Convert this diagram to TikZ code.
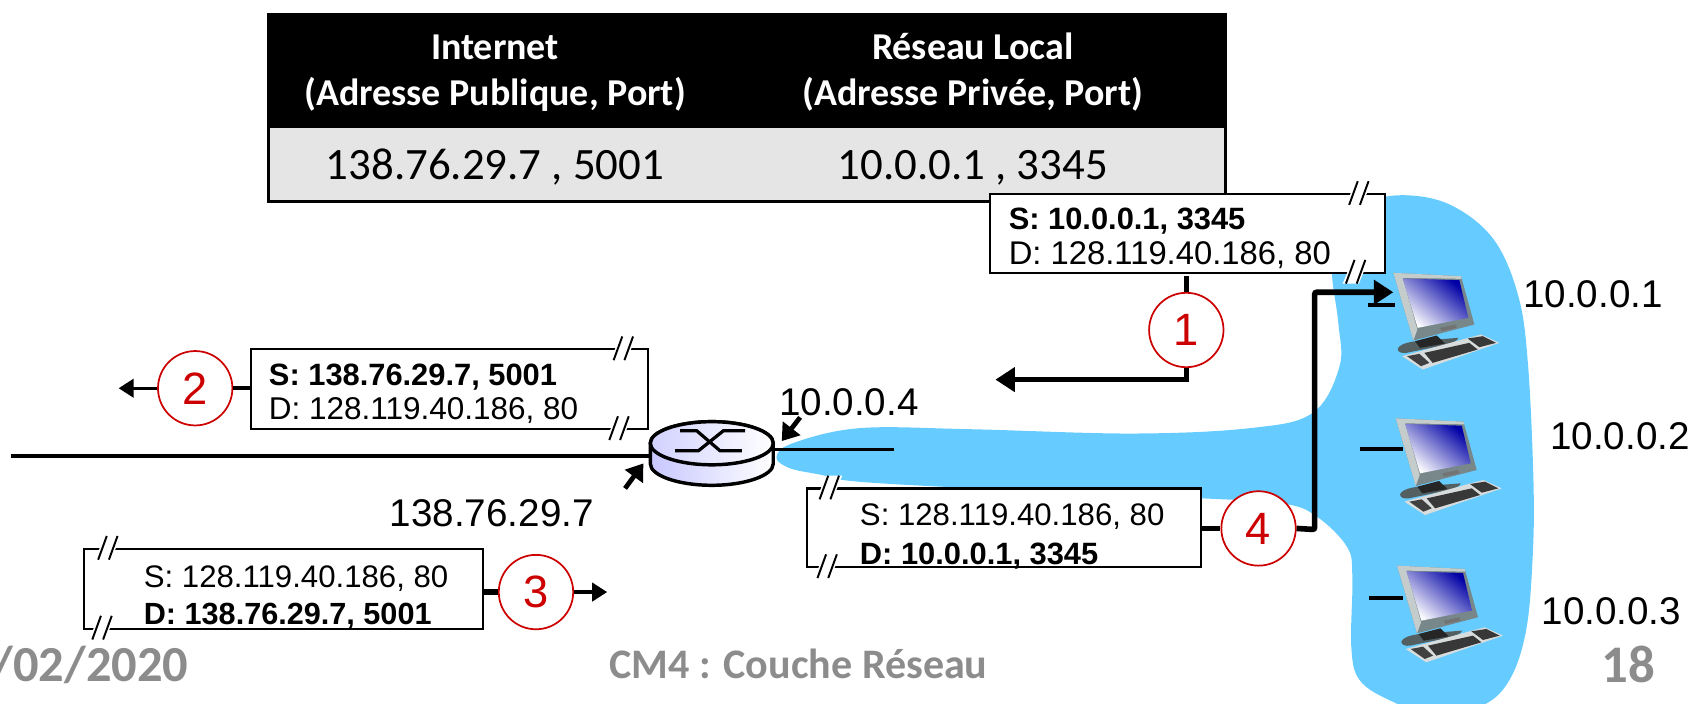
\documentclass[tikz,border=0pt]{standalone}
\usepackage{fontspec}
\setmainfont{Liberation Sans}
\newfontfamily\cali{Carlito}
\usetikzlibrary{arrows.meta}
\definecolor{lanblue}{HTML}{66CCFF}
\definecolor{numred}{HTML}{CC0000}
\definecolor{footgray}{HTML}{8C8C8C}
\definecolor{monbody}{HTML}{77878A}
\definecolor{monlight}{HTML}{C4CCCC}
\definecolor{keylight}{HTML}{D8DCDC}
\tikzset{
  tablecell/.style={draw=black,line width=1.3pt,minimum width=479.5pt*0.925,inner sep=0pt,anchor=north west},
  headtext/.style={text=white,font=\cali\bfseries\fontsize{17.6}{20}\selectfont,inner sep=0pt,anchor=base},
  rowtext/.style={text=black,font=\cali\fontsize{20.8}{24}\selectfont,inner sep=0pt,anchor=base},
  pktbox/.style={draw=black,line width=1pt,fill=white,inner sep=0pt,anchor=north west},
  pkt/.style={inner sep=0pt,anchor=base west},
  ipaddr/.style={inner sep=0pt,anchor=base west,font=\fontsize{17.9}{20}\selectfont},
  stepnum/.style={circle,draw=numred,line width=0.8pt,fill=white,minimum size=34.5pt,inner sep=0pt,text=numred,font=\fontsize{21}{24}\selectfont},
  wire/.style={draw=black,line width=2.4pt},
  stub/.style={draw=black,line width=1.9pt},
  thinwire/.style={draw=black,line width=1.8pt},
  bigarrow/.style={draw=black,line width=2.6pt,-{Triangle[length=9pt,width=11pt]}},
  smallarrow/.style={draw=black,line width=1.6pt,-{Triangle[length=7pt,width=8.5pt]}},
  addrarrow/.style={draw=black,line width=2.2pt,-{Triangle[length=7.5pt,width=10pt]}},
  foot/.style={text=footgray,inner sep=0pt,anchor=base,font=\cali\bfseries}
}
\newcommand{\linkbreak}[2]{%
  \fill[white] (#1-12,#2+11) -- (#1-3,#2-11) -- (#1+12,#2-11) -- (#1+3,#2+11) -- cycle;
  \draw[black,line width=0.9pt] (#1-9,#2+11) -- (#1-1,#2-11) (#1+1,#2+11) -- (#1+9,#2-11);
}
\newcommand{\computer}[2]{%
  \begin{scope}[shift={(#1,#2)},x=0.15455pt,y=-0.15455pt]
    \fill[monbody!70!black] (13,228) .. controls (20,210) and (60,205) .. (90,203) -- (195,195) .. controls (190,215) and (120,222) .. (40,240) .. controls (25,242) and (13,238) .. (13,228) -- cycle;
    \fill[black!85] (65,205) -- (130,188) -- (155,212) -- (80,225) -- cycle;
    \fill[monbody] (0,0) -- (203,10) -- (243,155) -- (60,203) -- cycle;
    \fill[monlight] (0,0) -- (203,10) -- (205,18) -- (28,15) -- (72,170) -- (60,203) -- cycle;
    \shade[left color=blue!65!black,right color=white,shading angle=-40] (28,17) -- (198,22) -- (225,135) -- (73,165) -- cycle;
    \fill[keylight] (26,250) -- (218,197) -- (263,185) -- (318,210) -- (88,290) -- cycle;
    \fill[black!78] (93,240) -- (228,210) -- (253,230) -- (118,270) -- cycle;
    \fill[black!78] (223,197) -- (268,190) -- (308,210) -- (258,223) -- cycle;
    \fill[black!75] (41,250) -- (78,243) -- (108,270) -- (83,280) -- cycle;
    \fill[black!55] (140,165) -- (188,155) -- (190,165) -- (145,175) -- cycle;
  \end{scope}
}
\begin{document}
\begin{tikzpicture}[x=0.5pt,y=-0.5pt]
\useasboundingbox (0,0) rectangle (1568,652);
\clip (0,0) rectangle (1568,652);

% local network blob
\fill[lanblue] plot[smooth cycle,tension=0.6] coordinates {
 (1300,181) (1345,190) (1385,222) (1408,275) (1417,340) (1422,450) (1421,520)
 (1415,585) (1400,630) (1375,654) (1330,664) (1290,650) (1261,631) (1253,600)
 (1254,535) (1249,507) (1221,479) (1190,467) (1113,462) (950,455) (800,447)
 (760,440) (732,434) (720,424) (735,411) (797,397) (900,398) (1050,402) (1159,397)
 (1217,383) (1242,340) (1241,300) (1235,253) (1238,215) (1262,190)};

% table
\node[tablecell,fill=black,minimum height=52pt] (thead) at (248,12) {};
\node[tablecell,fill=black!10,minimum height=34.5pt] (trow) at (248,116.5) {};
\node[headtext] (h1a) at (459,55) {Internet};
\node[headtext] (h1b) at (459,98) {(Adresse Publique, Port)};
\node[headtext] (h2a) at (902,55) {Réseau Local};
\node[headtext] (h2b) at (902,98) {(Adresse Privée, Port)};
\node[rowtext] (r1) at (459,166) {138.76.29.7 , 5001};
\node[rowtext] (r2) at (902,166) {10.0.0.1 , 3345};

% wires and router
\node[inner sep=0pt,minimum width=57pt,minimum height=29pt] (router) at (660,420) {};
\coordinate (wanend) at (10,423);
\coordinate (lanend) at (829,417);
\draw[thinwire] (wanend) -- (603,423);
\draw[draw=black,line width=1.2pt] (717,417) -- (lanend);
\draw[line width=1.6pt,draw=black,left color=blue!22,right color=white]
  (603,411) -- (603,430) .. controls (603,441) and (629,450) .. (660,450)
  .. controls (691,450) and (717,441) .. (717,430) -- (717,411)
  .. controls (717,400) and (691,391) .. (660,391)
  .. controls (629,391) and (603,400) .. (603,411) -- cycle;
\draw[line width=1.6pt,draw=black,left color=blue!18,right color=white]
  (603,411) .. controls (603,422) and (629,431) .. (660,431)
  .. controls (691,431) and (717,422) .. (717,411)
  .. controls (717,400) and (691,391) .. (660,391)
  .. controls (629,391) and (603,400) .. (603,411) -- cycle;
\draw[line width=1.5pt] (630.6,399.4) -- (646,399.4) -- (667.7,418) -- (687.8,418);
\draw[line width=1.5pt] (690.9,399.4) -- (670.8,399.4) -- (647.6,418) -- (626,418);

% address pointers
\coordinate (wanptr) at (579.6,452.9);
\coordinate (lanptr) at (741.9,387);
\draw[addrarrow] (wanptr) -- (596.6,429.7);
\draw[addrarrow] (lanptr) -- (724.9,409);

% computers
\node[inner sep=0pt,minimum size=2pt] (pc1) at (1296,283) {};
\node[inner sep=0pt,minimum size=2pt] (pc2) at (1303,416.3) {};
\node[inner sep=0pt,minimum size=2pt] (pc3) at (1303,554.2) {};
\coordinate (st1) at (1268.3,283);
\coordinate (st2) at (1261,416.3);
\coordinate (st3) at (1269.4,554.2);
\draw[stub] (st1) -- (pc1);
\draw[stub] (st2) -- (pc2);
\draw[stub] (st3) -- (pc3);
\computer{1292}{253}
\computer{1294.2}{387.9}
\computer{1295.4}{524.5}

% packet 1
\node[pktbox,minimum width=183pt,minimum height=36.5pt] (box1) at (917,179) {};
\linkbreak{1260}{179}
\linkbreak{1257}{252}
\node[pkt,font=\bfseries\fontsize{14.3}{17}\selectfont] (b1s) at (935,213) {S: 10.0.0.1, 3345};
\node[pkt,font=\fontsize{15.2}{17}\selectfont] (b1d) at (935,245) {D: 128.119.40.186, 80};

% packet 2
\node[pktbox,minimum width=184pt,minimum height=37pt] (box2) at (232,323) {};
\linkbreak{578}{323}
\linkbreak{574}{397}
\node[pkt,font=\bfseries\fontsize{14.3}{17}\selectfont] (b2s) at (249,357) {S: 138.76.29.7, 5001};
\node[pkt,font=\fontsize{14.6}{17}\selectfont] (b2d) at (249,389) {D: 128.119.40.186, 80};

% packet 3
\node[pktbox,minimum width=185pt,minimum height=37pt] (box3) at (77,508) {};
\linkbreak{100}{508}
\linkbreak{94.6}{582}
\node[pkt,font=\fontsize{14.45}{17}\selectfont] (b3s) at (133,545) {S: 128.119.40.186, 80};
\node[pkt,font=\bfseries\fontsize{14.2}{17}\selectfont] (b3d) at (133,579) {D: 138.76.29.7, 5001};

% packet 4
\node[pktbox,minimum width=183pt,minimum height=36.5pt] (box4) at (747,452) {};
\linkbreak{769}{452}
\linkbreak{767}{525}
\node[pkt,font=\fontsize{14.45}{17}\selectfont] (b4s) at (797,487) {S: 128.119.40.186, 80};
\node[pkt,font=\bfseries\fontsize{14.3}{17}\selectfont] (b4d) at (797,523) {D: 10.0.0.1, 3345};

% step circles
\node[stepnum] (c1) at (1100,306) {1};
\node[stepnum] (c2) at (181,360) {2};
\node[stepnum] (c3) at (497,549) {3};
\node[stepnum] (c4) at (1167,490) {4};

% step connectors
\coordinate (c1top) at (1100,256);
\coordinate (c1end) at (923,352);
\coordinate (c2end) at (110,360);
\coordinate (c3end) at (563,549);
\coordinate (c4end) at (1292,271);
\draw[wire] (c1top) -- (c1.north);
\draw[bigarrow] (c1.south) |- (c1end);
\draw[thinwire] (box2.west |- c2) -- (c2.east);
\draw[smallarrow] (c2.west) -- (c2end);
\draw[wire] (box3.east |- c3) -- (c3.west);
\draw[smallarrow] (c3.east) -- (c3end);
\draw[wire] (box4.east |- c4) -- (c4.west);
\draw[bigarrow,rounded corners=1pt] (c4.east) -- (1219,491) -- (1219,271) -- (c4end);

% addresses
\node[ipaddr] (ip1) at (1412,285) {10.0.0.1};
\node[ipaddr] (ip2) at (1437,417) {10.0.0.2};
\node[ipaddr] (ip3) at (1429,579) {10.0.0.3};
\node[ipaddr] (ip4) at (722,385) {10.0.0.4};
\node[ipaddr] (ipw) at (361,488) {138.76.29.7};

% footer
\node[foot,anchor=base east,font=\cali\bfseries\fontsize{23.4}{26}\selectfont] (fdate) at (175,632) {/02/2020};
\node[foot,font=\cali\bfseries\fontsize{19.5}{22}\selectfont] (ftitle) at (740.5,629) {CM4 : Couche Réseau};
\node[foot,font=\cali\bfseries\fontsize{24.5}{26}\selectfont] (fnum) at (1510,633) {18};
\end{tikzpicture}
\end{document}
